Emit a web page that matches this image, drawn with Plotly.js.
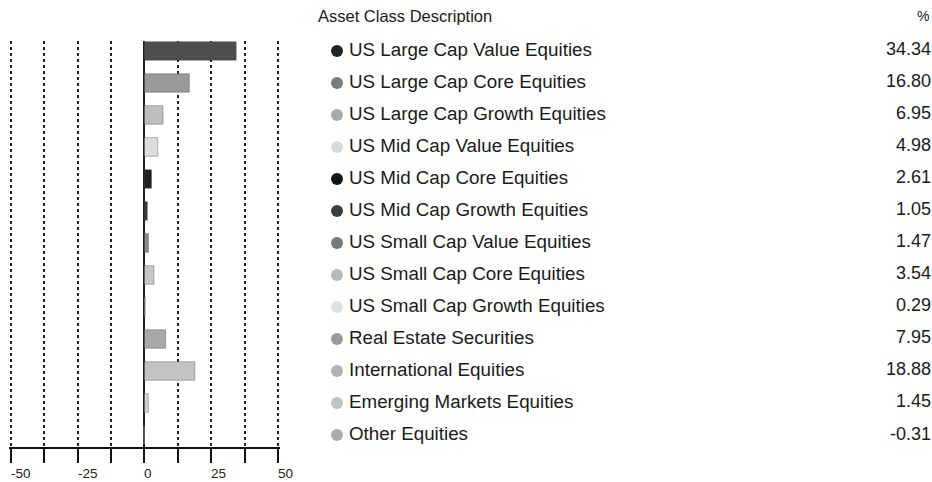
<!DOCTYPE html>
<html>
<head>
<meta charset="utf-8">
<script src="https://cdn.plot.ly/plotly-3.0.1.min.js"></script>
<style>html,body{margin:0;padding:0;background:#fff;}#chart{width:932px;height:482px;}</style>
</head>
<body>
<div id="chart"></div>
<script>
const categories = [
  "US Large Cap Value Equities",
  "US Large Cap Core Equities",
  "US Large Cap Growth Equities",
  "US Mid Cap Value Equities",
  "US Mid Cap Core Equities",
  "US Mid Cap Growth Equities",
  "US Small Cap Value Equities",
  "US Small Cap Core Equities",
  "US Small Cap Growth Equities",
  "Real Estate Securities",
  "International Equities",
  "Emerging Markets Equities",
  "Other Equities"
];
const values = [34.34, 16.80, 6.95, 4.98, 2.61, 1.05, 1.47, 3.54, 0.29, 7.95, 18.88, 1.45, -0.31];
const valueLabels = ["34.34","16.80","6.95","4.98","2.61","1.05","1.47","3.54","0.29","7.95","18.88","1.45","-0.31"];
const barColors = ["#4e4e4e","#9a9a9a","#bdbdbd","#dcdcdc","#222222","#3a3a3a","#8a8a8a","#c6c6c6","#e0e0e0","#a8a8a8","#c2c2c2","#d2d2d2","#bcbcbc"];
const dotColors = ["#232323","#7c7c7c","#a9a9a9","#d9d9d9","#141414","#3c3c3c","#787878","#b9b9b9","#e0e0e0","#9a9a9a","#b2b2b2","#c2c2c2","#ababab"];
const tickVals = [-50,-37.5,-25,-12.5,0,12.5,25,37.5,50];
const tickLabelVals = [-50,-25,0,25,50];
const tickLabelText = ["-50","-25","0","25","50"];
const headerLeft = "Asset Class Description";
const headerRight = "%";

const FONT = '"Liberation Sans", Arial, sans-serif';
const W = 932, H = 482;

const traces = [
  {
    type: 'bar', orientation: 'h',
    x: values, y: categories,
    xaxis: 'x', yaxis: 'y',
    width: 0.58,
    marker: {color: barColors, line: {color: 'rgba(60,60,60,0.35)', width: 1}},
    hoverinfo: 'skip'
  },
  {
    type: 'scatter', mode: 'markers',
    x: categories.map(() => 337), y: categories,
    xaxis: 'x2', yaxis: 'y',
    marker: {size: 12, color: dotColors, line: {width: 0}},
    cliponaxis: false, hoverinfo: 'skip'
  },
  {
    type: 'scatter', mode: 'text',
    x: categories.map(() => 349), y: categories,
    text: categories, textposition: 'middle right',
    textfont: {family: FONT, size: 18.8, color: '#1a1a1a'},
    xaxis: 'x2', yaxis: 'y', cliponaxis: false, hoverinfo: 'skip'
  },
  {
    type: 'scatter', mode: 'text',
    x: categories.map(() => 931), y: categories,
    text: valueLabels, textposition: 'middle left',
    textfont: {family: FONT, size: 18, color: '#1a1a1a'},
    xaxis: 'x2', yaxis: 'y', cliponaxis: false, hoverinfo: 'skip'
  }
];

const plotTop = 41, plotBottom = 447;
const plotH = plotBottom - plotTop;

const annotations = tickLabelVals.map((v, i) => ({
  x: v, xref: 'x', xanchor: 'left', xshift: -2,
  y: -(473 - plotBottom) / plotH, yref: 'paper', yanchor: 'middle',
  text: tickLabelText[i], showarrow: false,
  font: {family: FONT, size: 13.5, color: '#222'}
}));
annotations.push({
  x: 316, xref: 'x2', xanchor: 'left',
  y: 1 + (plotTop - 16) / plotH, yref: 'paper', yanchor: 'middle',
  text: headerLeft, showarrow: false,
  font: {family: FONT, size: 16.5, color: '#1a1a1a'}
});
annotations.push({
  x: 931, xref: 'x2', xanchor: 'right',
  y: 1 + (plotTop - 16) / plotH, yref: 'paper', yanchor: 'middle',
  text: headerRight, showarrow: false,
  font: {family: FONT, size: 14, color: '#1a1a1a'}
});

const pxPerUnit = 267 / 100;
const pad = 0.6;

const layout = {
  width: W, height: H,
  margin: {l: 0, r: 0, t: plotTop, b: H - plotBottom, pad: 0},
  paper_bgcolor: '#fff', plot_bgcolor: '#fff',
  showlegend: false,
  font: {family: FONT},
  xaxis: {
    domain: [(11 - pad * pxPerUnit) / W, (278 + pad * pxPerUnit) / W],
    range: [-50 - pad, 50 + pad], autorange: false,
    tickmode: 'array', tickvals: tickVals,
    showticklabels: false,
    ticks: 'outside', ticklen: 14, tickwidth: 2, tickcolor: '#111',
    showline: true, linecolor: '#111', linewidth: 2,
    showgrid: true, gridcolor: '#222', gridwidth: 2, griddash: 'dot',
    zeroline: true, zerolinecolor: '#222', zerolinewidth: 2,
    fixedrange: true
  },
  xaxis2: {
    domain: [300 / W, 1], range: [300, 932], autorange: false,
    anchor: 'y', visible: false, fixedrange: true
  },
  yaxis: {
    type: 'category', categoryorder: 'array', categoryarray: categories,
    range: [12.375, -0.31], autorange: false,
    showticklabels: false, showgrid: false, zeroline: false, showline: false, ticks: '',
    fixedrange: true
  },
  annotations: annotations
};

Plotly.newPlot('chart', traces, layout, {staticPlot: true, displayModeBar: false});
</script>
</body>
</html>
